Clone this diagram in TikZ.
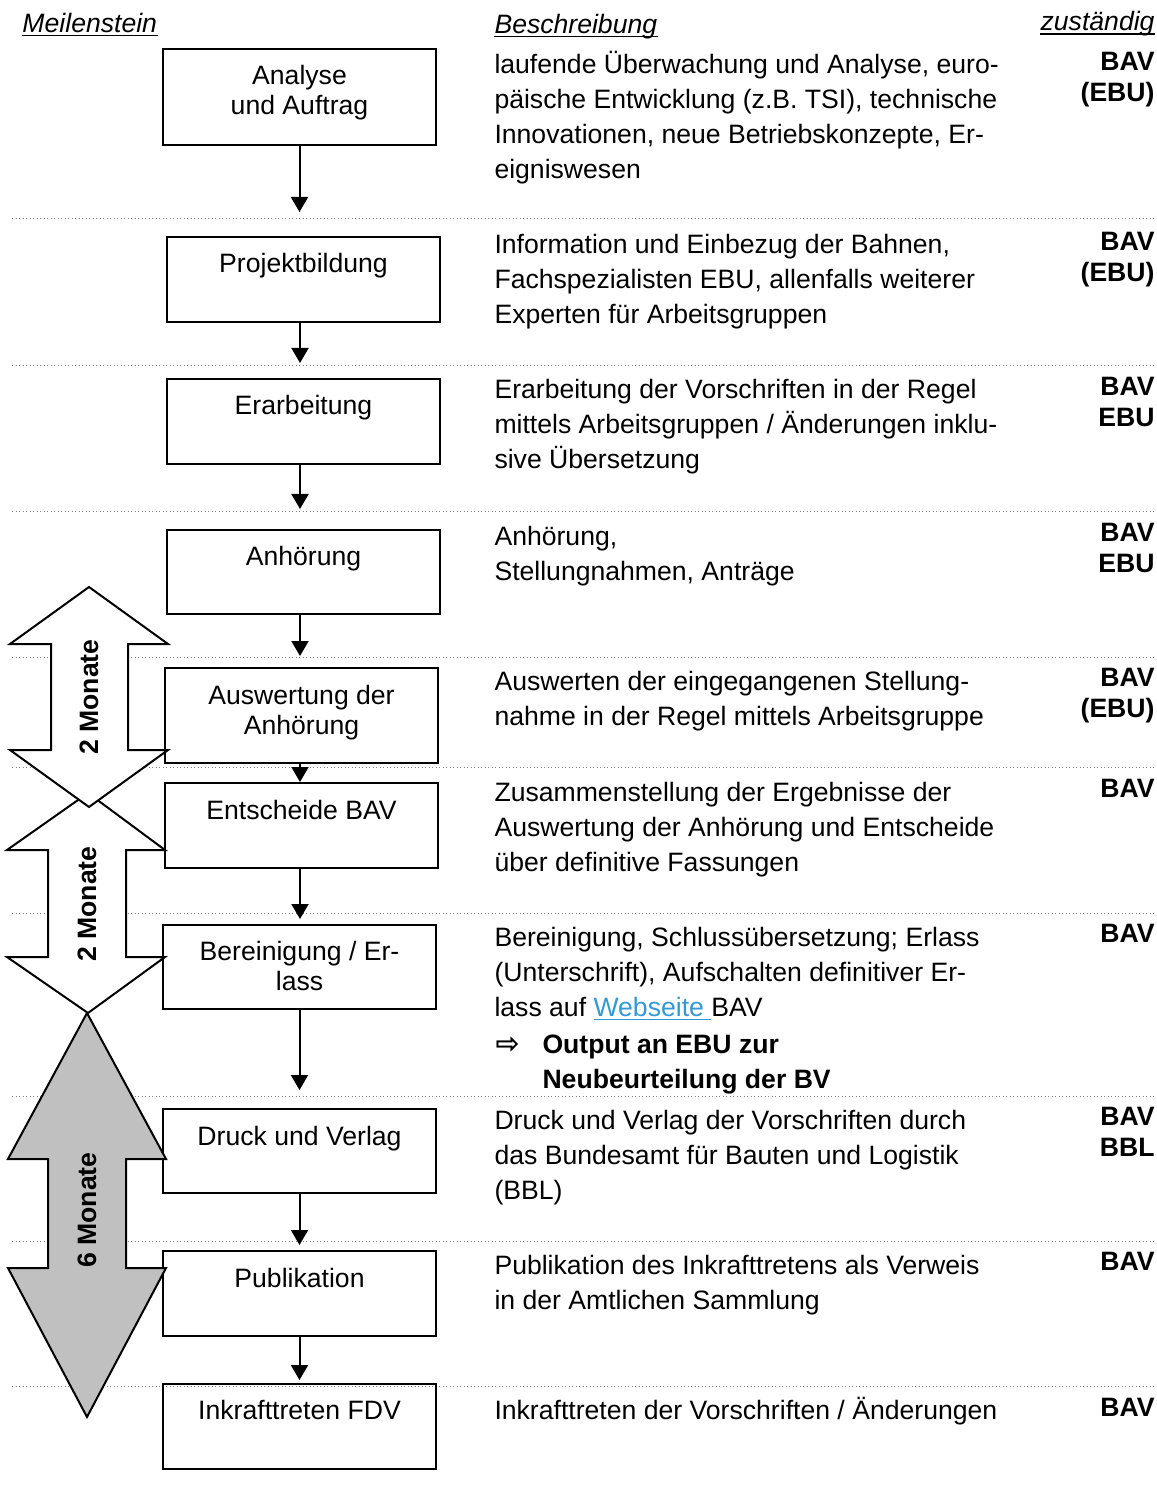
\documentclass[tikz,border=0pt]{standalone}
\usepackage{fontspec}
\setmainfont{Liberation Sans}
\newfontfamily\symfont{DejaVu Sans}
\usetikzlibrary{arrows.meta}
\definecolor{arrowgray}{RGB}{192,192,192}
\definecolor{linkblue}{RGB}{51,153,214}
\newlength\px
\setlength\px{0.4pt}
\newcommand{\zeilen}[2]{\begin{tabular}[t]{@{}#1@{}}#2\end{tabular}}

\begin{document}
\begin{tikzpicture}[x=0.4pt, y=-0.4pt,
    ms/.style={draw, line width=0.8pt, minimum width=273\px, inner sep=0pt},
    mslabel/.style={anchor=base, inner sep=0pt, font=\fontsize{10.64}{12}\selectfont},
    desc/.style={anchor=base west, inner sep=0pt, font=\fontsize{10.64}{14}\selectfont},
    resp/.style={anchor=base east, inner sep=0pt, font=\bfseries\fontsize{10.64}{12.4}\selectfont},
    flow/.style={line width=0.8pt, -{Triangle[length=6pt,width=6.8pt]}},
    rowline/.style={densely dotted, gray, line width=0.4pt},
    dbl/.style={draw, line width=0.8pt, line join=miter},
    monat/.style={rotate=90, inner sep=0pt, font=\bfseries\fontsize{10.64}{12}\selectfont},
    hd/.style={inner sep=0pt, font=\itshape\fontsize{10.64}{12}\selectfont},
    ul/.style={line width=0.6pt}
  ]
        \useasboundingbox (0,0) rectangle (1157,1490);

        % Kopfzeile
        \node[hd, anchor=base west] (h1) at (22,32.5) {Meilenstein};
        \node[hd, anchor=base west] (h2) at (494,33.5) {Beschreibung};
        \node[hd, anchor=base east] (h3) at (1155,31) {zuständig};
        \foreach \h in {h1,h2,h3}
            \draw[ul] ([yshift=-1.2pt]\h.base west) -- ([yshift=-1.2pt]\h.base east);

        % Trennlinien
        \foreach \y in {219,366,511,657,767,913,1096,1241,1386}
            \draw[rowline] (12,\y) -- (1157,\y);

        % Meilensteine
        \node[ms, minimum height=96\px] (m1) at (299.5,97) {};
        \node[ms, minimum height=85\px] (m2) at (303.5,279.5) {};
        \node[ms, minimum height=85\px] (m3) at (303.5,421.5) {};
        \node[ms, minimum height=84\px] (m4) at (303.5,572) {};
        \node[ms, minimum height=95\px] (m5) at (301.5,715.5) {};
        \node[ms, minimum height=85\px] (m6) at (301.5,825.5) {};
        \node[ms, minimum height=84\px] (m7) at (299.5,967) {};
        \node[ms, minimum height=84\px] (m8) at (299.5,1151) {};
        \node[ms, minimum height=85\px] (m9) at (299.5,1293.5) {};
        \node[ms, minimum height=85\px] (m10) at (299.5,1426.5) {};

        \node[mslabel] (l1) at ([yshift=-37\px]m1.north) {\zeilen{c}{Analyse\\und Auftrag}};
        \node[mslabel] (l2) at ([yshift=-37\px]m2.north) {Projektbildung};
        \node[mslabel] (l3) at ([yshift=-37\px]m3.north) {Erarbeitung};
        \node[mslabel] (l4) at ([yshift=-36\px]m4.north) {Anhörung};
        \node[mslabel] (l5) at ([yshift=-37\px]m5.north) {\zeilen{c}{Auswertung der\\Anhörung}};
        \node[mslabel] (l6) at ([yshift=-37\px]m6.north) {Entscheide BAV};
        \node[mslabel] (l7) at ([yshift=-36\px]m7.north) {\zeilen{c}{Bereinigung / Er-\\lass}};
        \node[mslabel] (l8) at ([yshift=-37\px]m8.north) {Druck und Verlag};
        \node[mslabel] (l9) at ([yshift=-37\px]m9.north) {Publikation};
        \node[mslabel] (l10) at ([yshift=-36\px]m10.north) {Inkrafttreten FDV};

        \draw[flow, shorten >=24\px] (m1.south) -- (m1.south |- m2.north);
        \draw[flow, shorten >=15\px] ([xshift=-3.5\px]m2.south) -- ([xshift=-3.5\px]m2.south |- m3.north);
        \draw[flow, shorten >=20\px] ([xshift=-3.5\px]m3.south) -- ([xshift=-3.5\px]m3.south |- m4.north);
        \draw[flow, shorten >=11\px] ([xshift=-3.5\px]m4.south) -- ([xshift=-3.5\px]m4.south |- m5.north);
        \draw[flow] ([xshift=-1.5\px]m5.south) -- ([xshift=-1.5\px]m5.south |- m6.north);
        \draw[flow, shorten >=5\px] ([xshift=-1.5\px]m6.south) -- ([xshift=-1.5\px]m6.south |- m7.north);
        \draw[flow, shorten >=18\px] (m7.south) -- (m7.south |- m8.north);
        \draw[flow, shorten >=5\px] (m8.south) -- (m8.south |- m9.north);
        \draw[flow, shorten >=3\px] (m9.south) -- (m9.south |- m10.north);

        % Beschreibung
        \node[desc] (d1) at (494,74) {\zeilen{l}{laufende Überwachung und Analyse, euro-\\päische Entwicklung (z.B. TSI), technische\\Innovationen, neue Betriebskonzepte, Er-\\eigniswesen}};
        \node[desc] (d2) at (494,254) {\zeilen{l}{Information und Einbezug der Bahnen,\\Fachspezialisten EBU, allenfalls weiterer\\Experten für Arbeitsgruppen}};
        \node[desc] (d3) at (494,399) {\zeilen{l}{Erarbeitung der Vorschriften in der Regel\\mittels Arbeitsgruppen / Änderungen inklu-\\sive Übersetzung}};
        \node[desc] (d4) at (494,545) {\zeilen{l}{Anhörung,\\Stellungnahmen, Anträge}};
        \node[desc] (d5) at (494,690) {\zeilen{l}{Auswerten der eingegangenen Stellung-\\nahme in der Regel mittels Arbeitsgruppe}};
        \node[desc] (d6) at (494,801) {\zeilen{l}{Zusammenstellung der Ergebnisse der\\Auswertung der Anhörung und Entscheide\\über definitive Fassungen}};
        \node[desc] (d7) at (494,946) {\zeilen{l}{Bereinigung, Schlussübersetzung; Erlass\\(Unterschrift), Aufschalten definitiver Er-\\lass auf \textcolor{linkblue}{\underline{Webseite\ }}BAV}};
        \node[desc, font=\symfont\bfseries\fontsize{11.5}{14}\selectfont] (b7) at (495,1053) {⇨};
        \node[desc, font=\bfseries\fontsize{10.64}{14}\selectfont] (o7) at (542,1053) {\zeilen{l}{Output an EBU zur\\Neubeurteilung der BV}};
        \node[desc] (d8) at (494,1129) {\zeilen{l}{Druck und Verlag der Vorschriften durch\\das Bundesamt für Bauten und Logistik\\(BBL)}};
        \node[desc] (d9) at (494,1274) {\zeilen{l}{Publikation des Inkrafttretens als Verweis\\in der Amtlichen Sammlung}};
        \node[desc] (d10) at (494,1419) {Inkrafttreten der Vorschriften / Änderungen};

        % zustaendig
        \node[resp] (r1) at (1155,70.5) {\zeilen{r}{BAV\\(EBU)}};
        \node[resp] (r2) at (1155,250.5) {\zeilen{r}{BAV\\(EBU)}};
        \node[resp] (r3) at (1155,395.5) {\zeilen{r}{BAV\\EBU}};
        \node[resp] (r4) at (1155,541.5) {\zeilen{r}{BAV\\EBU}};
        \node[resp] (r5) at (1155,686.5) {\zeilen{r}{BAV\\(EBU)}};
        \node[resp] (r6) at (1155,797.5) {BAV};
        \node[resp] (r7) at (1155,942.5) {BAV};
        \node[resp] (r8) at (1155,1125.5) {\zeilen{r}{BAV\\BBL}};
        \node[resp] (r9) at (1155,1270.5) {BAV};
        \node[resp] (r10) at (1155,1416.5) {BAV};

        % Fristen
        \draw[dbl, fill=arrowgray] (87,1013) -- (166,1159) -- (126,1159) -- (126,1268) -- (166,1268) -- (87,1417)
            -- (8,1268) -- (48,1268) -- (48,1159) -- (8,1159) -- cycle;
        \draw[dbl, fill=white] (88,793) -- (165,850) -- (126,850) -- (126,957) -- (165,957) -- (88,1013)
            -- (7,957) -- (48,957) -- (48,850) -- (7,850) -- cycle;
        \draw[dbl, fill=white] (89,587) -- (168,644) -- (128,644) -- (128,750) -- (168,750) -- (89,807)
            -- (10,750) -- (51,750) -- (51,644) -- (10,644) -- cycle;

        \node[monat] (mo1) at (89,697) {2 Monate};
        \node[monat] (mo2) at (87,904) {2 Monate};
        \node[monat] (mo3) at (87,1210) {6 Monate};

    \end{tikzpicture}
\end{document}
